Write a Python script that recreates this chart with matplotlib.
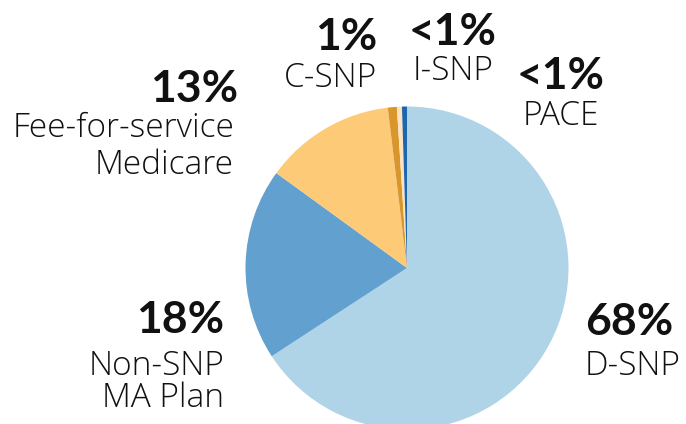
import matplotlib
matplotlib.use("Agg")
import matplotlib.pyplot as plt

# Shares as drawn (clockwise from 12 o'clock)
categories = ["D-SNP", "Non-SNP MA Plan", "Fee-for-service Medicare", "C-SNP", "I-SNP", "PACE"]
shares = [65.8, 19.2, 13.1, 0.9, 0.5, 0.5]
pct_labels = ["68%", "18%", "13%", "1%", "<1%", "<1%"]
name_lines = [["D-SNP"], ["Non-SNP", "MA Plan"], ["Fee-for-service", "Medicare"],
              ["C-SNP"], ["I-SNP"], ["PACE"]]
colors = ["#afd4e7", "#62a0cf", "#fdca78", "#d9962c", "#fde3c0", "#1f67ad"]

W, H = 686, 424
fig = plt.figure(figsize=(W / 100, H / 100), dpi=100)

# pie centre (407, 268) px, radius ~161 px
cx, cy, r = 407, 268, 161.5
ax = fig.add_axes([(cx - r) / W, 1 - (cy + r) / H, 2 * r / W, 2 * r / H])
ax.pie(shares, colors=colors, startangle=90, counterclock=False,
       wedgeprops=dict(linewidth=0))
ax.set_xlim(-1, 1)
ax.set_ylim(-1, 1)
ax.axis("off")

# label anchors in pixels: (x, pct baseline, name baselines, alignment)
label_pos = [
    (585, 335, [375], "left"),
    (224, 333, [375, 407], "right"),
    (238, 102, [137, 174], "right"),
    (377, 50, [87], "right"),
    (453, 45, [80], "center"),
    (561, 89, [125], "center"),
]

for pct, names, (x, yb, ys, ha) in zip(pct_labels, name_lines, label_pos):
    fig.text(x / W, 1 - yb / H, pct, ha=ha, va="baseline", fontsize=32,
             fontweight="bold", family="Lato", color="#111111")
    xn = x - 4 if names[0].startswith("Fee") else x
    for name, y in zip(names, ys):
        fig.text(xn / W, 1 - y / H, name, ha=ha, va="baseline", fontsize=24,
                 fontweight="light", family="Open Sans", color="#111111")

fig.savefig("out.png", dpi=100)
